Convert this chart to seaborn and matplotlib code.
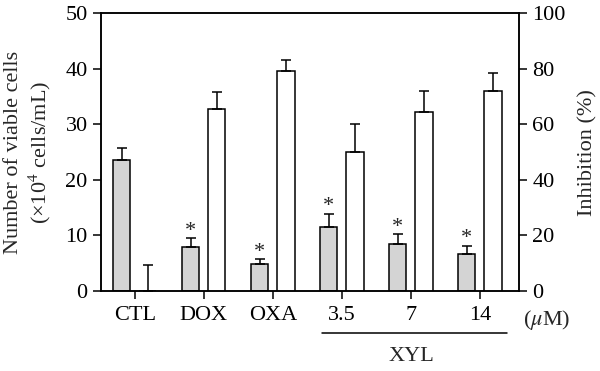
import numpy as np
import pandas as pd
import matplotlib
matplotlib.use("Agg")
import matplotlib.pyplot as plt
import seaborn as sns

# data
groups = ["CTL", "DOX", "OXA", "3.5", "7", "14"]
cell_count = [23.6, 7.9, 4.9, 11.6, 8.4, 6.6]          # x10^4 cells/mL
cell_err = [2.2, 1.6, 0.8, 2.3, 1.8, 1.5]
inhibition = [0.0, 65.6, 79.2, 50.0, 64.4, 71.8]        # %
inhib_err = [9.5, 6.0, 3.8, 10.0, 7.6, 6.6]
signif = [False, True, True, True, True, True]

sns.set_style("ticks")
plt.rcParams["font.family"] = ["Liberation Serif", "DejaVu Serif"]
plt.rcParams["mathtext.fontset"] = "stix"
plt.rcParams["font.size"] = 16
plt.rcParams["axes.linewidth"] = 1.1

off = 0.19
bw = 0.25
idx = np.arange(len(groups))
df_cells = pd.DataFrame({"pos": idx - off, "val": cell_count})
df_inh = pd.DataFrame({"pos": idx + off, "val": inhibition})

fig = plt.figure(figsize=(6, 3.71), dpi=100)
ax = fig.add_axes([0.168, 0.2156, 0.697, 0.749])
ax2 = ax.twinx()

sns.barplot(data=df_cells, x="pos", y="val", native_scale=True, width=bw,
            color="#d4d4d4", edgecolor="black", linewidth=1.1,
            errorbar=None, ax=ax, saturation=1)
sns.barplot(data=df_inh, x="pos", y="val", native_scale=True, width=bw,
            color="white", edgecolor="black", linewidth=1.1,
            errorbar=None, ax=ax2, saturation=1)

ax.errorbar(idx - off, cell_count, yerr=[np.zeros(len(groups)), cell_err],
            fmt="none", ecolor="black", elinewidth=1.1, capsize=3.5, capthick=1.1)
ax2.errorbar(idx + off, inhibition, yerr=[np.zeros(len(groups)), inhib_err],
             fmt="none", ecolor="black", elinewidth=1.1, capsize=3.5, capthick=1.1)

for i, s in enumerate(signif):
    if s:
        ax.text(i - off, cell_count[i] + cell_err[i] - 0.45, "*",
                ha="center", va="bottom", fontsize=16)

ax.set_xlim(-0.49, 5.565)
ax.set_ylim(0, 50)
ax2.set_ylim(0, 100)
ax.set_yticks(range(0, 51, 10))
ax2.set_yticks(range(0, 101, 20))
ax.set_xticks(idx)
ax.set_xticklabels(groups)
ax.set_xlabel("")
ax2.set_xlabel("")
ax.set_ylabel("Number of viable cells\n(×10$^4$ cells/mL)", linespacing=1.15, labelpad=9)
ax2.set_ylabel("Inhibition (%)", labelpad=9)
ax.tick_params(axis="both", direction="out", length=5.5, width=1.1, pad=4, colors="black")
ax.tick_params(axis="x", pad=5)
ax2.tick_params(axis="y", direction="out", length=5.5, width=1.1, pad=4, colors="black")
for a in (ax, ax2):
    for sp in a.spines.values():
        sp.set_visible(True)
        sp.set_color("black")

tr = ax.get_xaxis_transform()
ax.text(5.97, -0.105, "($\\mu$M)", transform=tr, ha="center", va="center")
ax.plot([2.71, 5.39], [-0.151, -0.151], transform=tr, color="black",
        lw=1.1, clip_on=False)
ax.text(4.0, -0.237, "XYL", transform=tr, ha="center", va="center")

fig.savefig("out.png", dpi=100)
